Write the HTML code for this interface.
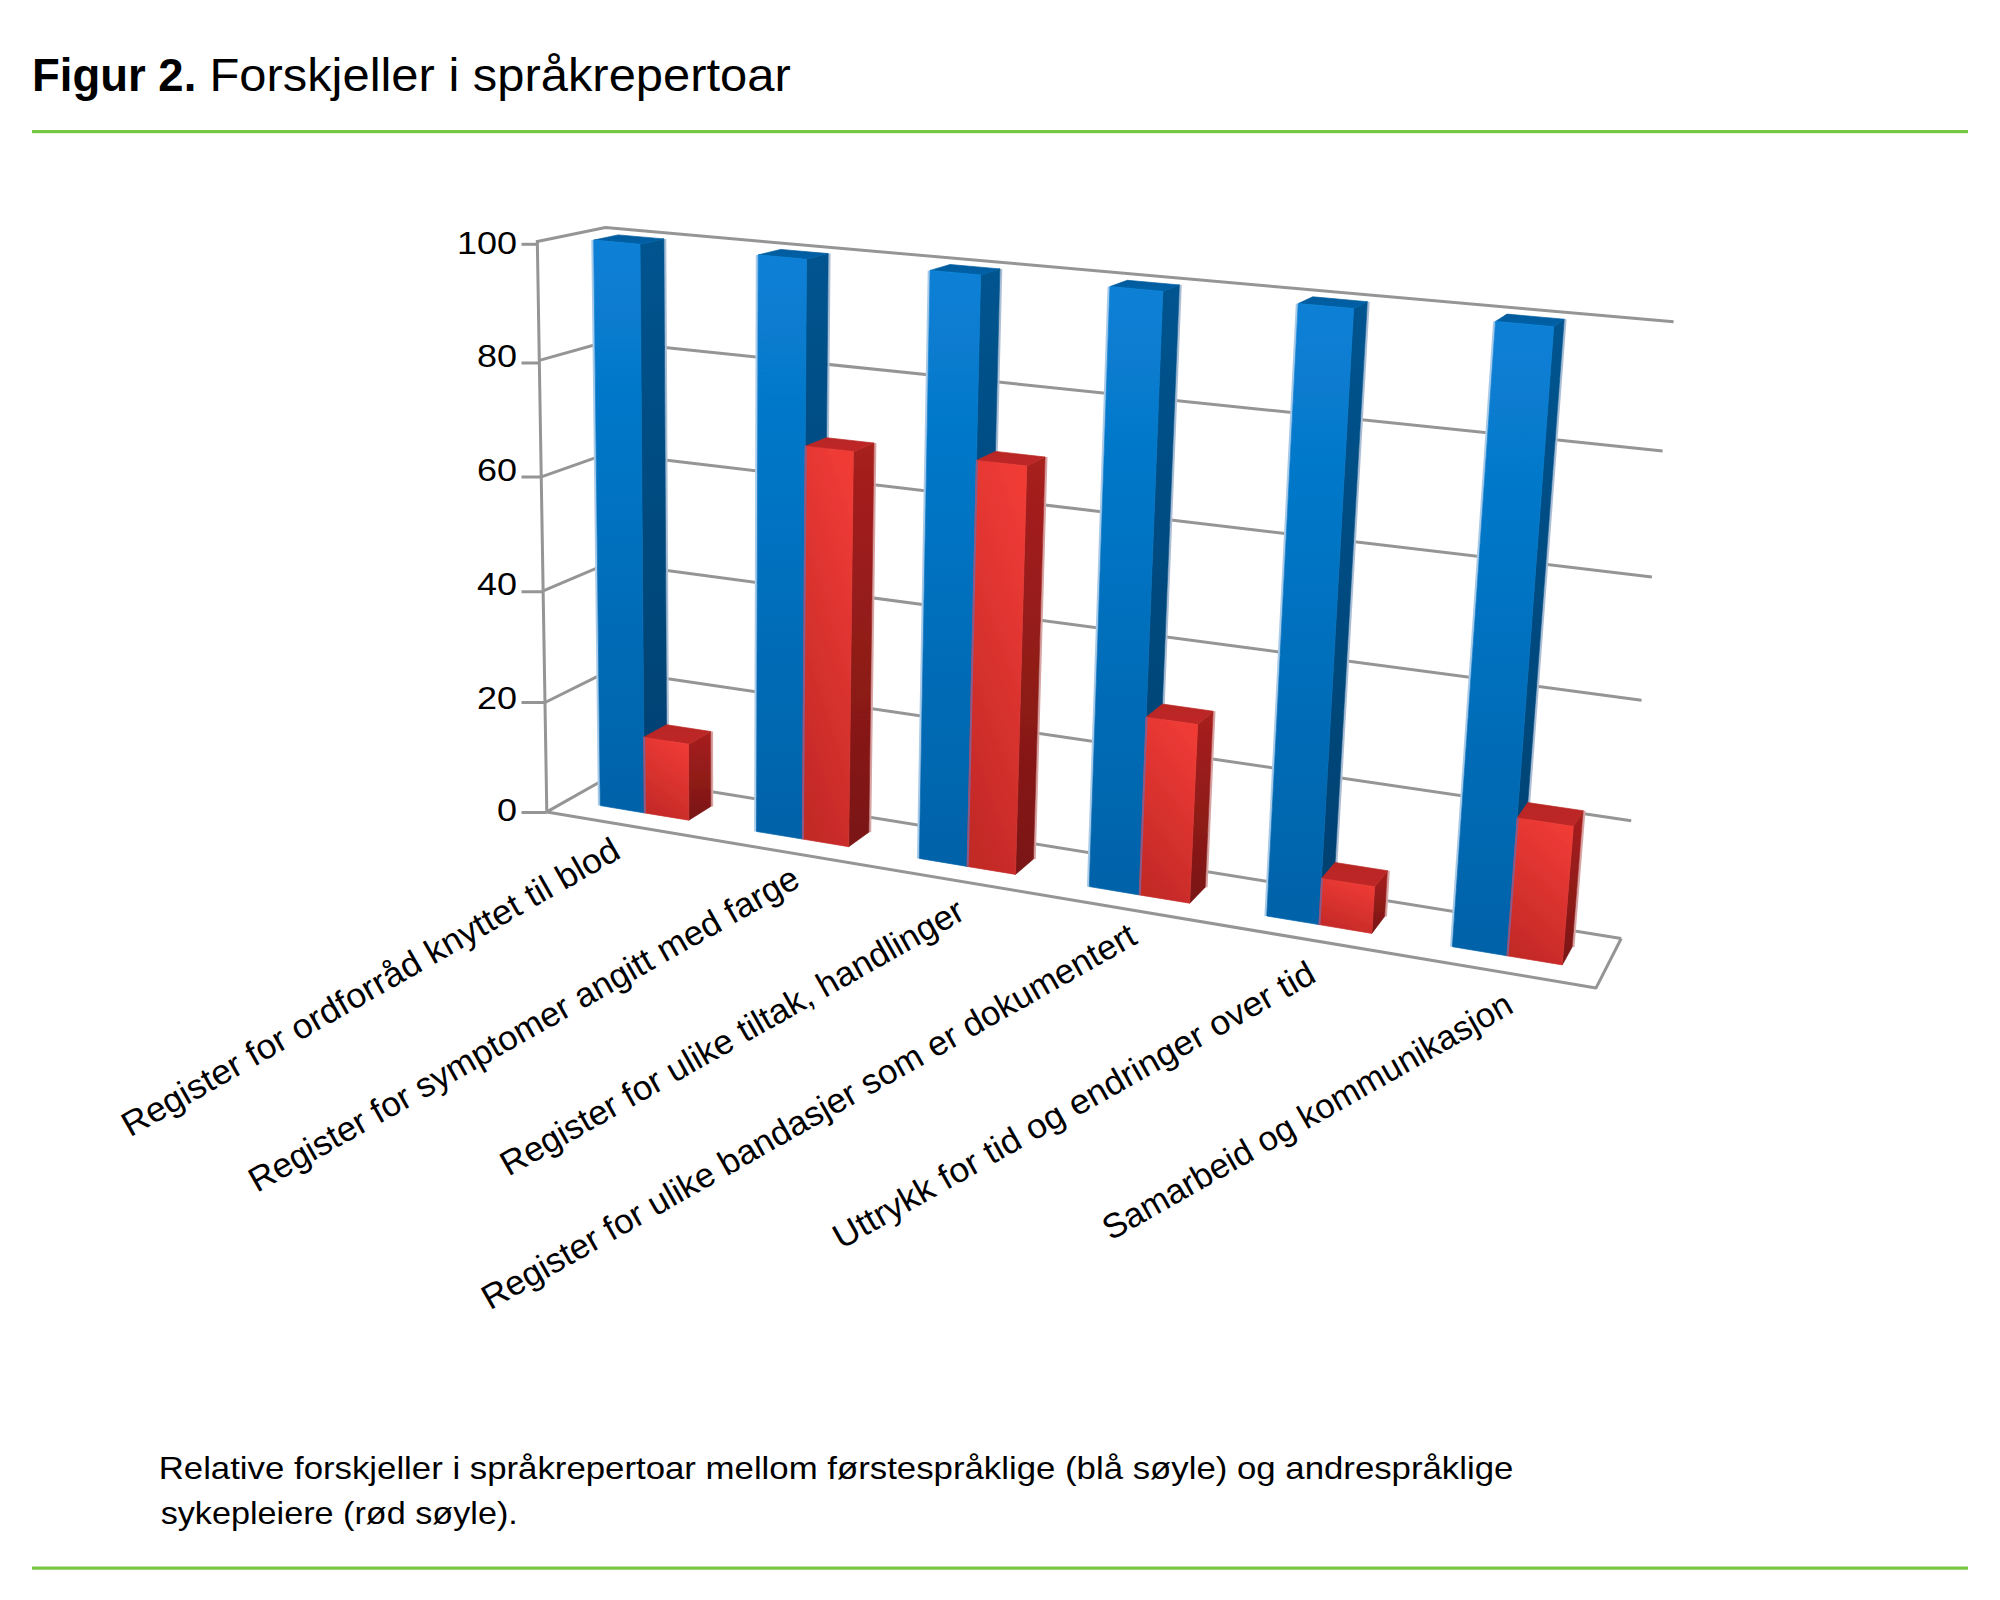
<!DOCTYPE html>
<html><head><meta charset="utf-8"><title>Figur 2. Forskjeller i språkrepertoar</title><style>
html,body{margin:0;padding:0;background:#fff;}
svg{display:block;}
text{font-family:"Liberation Sans",sans-serif;fill:#000;}
.ax{font-size:32px;}
.lb{font-size:34.5px;}
.cap{font-size:32px;}
</style></head><body>
<svg width="2000" height="1600" viewBox="0 0 2000 1600">
<defs>
<filter id="soft" x="-5%" y="-5%" width="110%" height="110%"><feGaussianBlur stdDeviation="0.6"/></filter>
<linearGradient id="bf" x1="0" y1="0" x2="0" y2="1"><stop offset="0" stop-color="#0880D6"/><stop offset="1" stop-color="#0062A8"/></linearGradient>
<linearGradient id="bs" x1="0" y1="0" x2="0" y2="1"><stop offset="0" stop-color="#00548F"/><stop offset="1" stop-color="#00406F"/></linearGradient>
<linearGradient id="bt" x1="0" y1="0" x2="0" y2="1"><stop offset="0" stop-color="#005A9C"/><stop offset="1" stop-color="#0062A8"/></linearGradient>
<linearGradient id="rf" x1="0.7" y1="0" x2="0.3" y2="1"><stop offset="0" stop-color="#F03B36"/><stop offset="1" stop-color="#C22927"/></linearGradient>
<linearGradient id="rs" x1="0" y1="0" x2="0" y2="1"><stop offset="0" stop-color="#A8201E"/><stop offset="1" stop-color="#7A1614"/></linearGradient>
<linearGradient id="rt" x1="0" y1="0" x2="0" y2="1"><stop offset="0" stop-color="#B82624"/><stop offset="1" stop-color="#C02826"/></linearGradient>
</defs>
<rect width="2000" height="1600" fill="#fff"/>
<text x="32" y="90.5" font-size="47" font-weight="bold" textLength="164.3" lengthAdjust="spacingAndGlyphs">Figur 2.</text>
<text x="209.4" y="90.5" font-size="47" textLength="581.3" lengthAdjust="spacingAndGlyphs">Forskjeller i språkrepertoar</text>
<rect x="32" y="130" width="1936" height="3.2" fill="#76C843"/>
<g filter="url(#soft)">
<polyline points="546.8,811.9 611.3,775.5 1621.2,938.5" stroke="#959595" stroke-width="3" fill="none" stroke-linejoin="round"/>
<line x1="521.5" y1="812.5" x2="546.8" y2="812.5" stroke="#959595" stroke-width="3" fill="none" stroke-linejoin="round"/>
<polyline points="545.0,702.5 610.2,670.2 1631.2,820.7" stroke="#959595" stroke-width="3" fill="none" stroke-linejoin="round"/>
<line x1="521.5" y1="702.5" x2="545.0" y2="702.5" stroke="#959595" stroke-width="3" fill="none" stroke-linejoin="round"/>
<polyline points="543.2,590.9 609.1,562.8 1641.5,700.2" stroke="#959595" stroke-width="3" fill="none" stroke-linejoin="round"/>
<line x1="521.5" y1="591.75" x2="543.2" y2="591.75" stroke="#959595" stroke-width="3" fill="none" stroke-linejoin="round"/>
<polyline points="541.3,476.9 607.9,453.3 1651.9,576.9" stroke="#959595" stroke-width="3" fill="none" stroke-linejoin="round"/>
<line x1="521.5" y1="477" x2="541.3" y2="477" stroke="#959595" stroke-width="3" fill="none" stroke-linejoin="round"/>
<polyline points="539.3,360.4 606.8,341.5 1662.6,450.9" stroke="#959595" stroke-width="3" fill="none" stroke-linejoin="round"/>
<line x1="521.5" y1="363" x2="539.3" y2="363" stroke="#959595" stroke-width="3" fill="none" stroke-linejoin="round"/>
<polyline points="537.3,241.5 605.5,227.5 1673.6,321.8" stroke="#959595" stroke-width="3" fill="none" stroke-linejoin="round"/>
<line x1="521.5" y1="244.3" x2="537.3" y2="244.3" stroke="#959595" stroke-width="3" fill="none" stroke-linejoin="round"/>
<line x1="546.8" y1="811.9" x2="537.3" y2="240.0" stroke="#959595" stroke-width="3" fill="none" stroke-linejoin="round"/>
<polyline points="546.8,811.9 1596.1,987.9 1621.2,938.5" stroke="#959595" stroke-width="3" fill="none" stroke-linejoin="round"/>
<line x1="599.1" y1="805.6" x2="592.5" y2="240.1" stroke="#A9CBEA" stroke-width="2.4"/>
<line x1="668.2" y1="799.2" x2="665.2" y2="238.9" stroke="#ADBFD6" stroke-width="2.2"/>
<polygon points="640.0,244.3 663.9,238.9 666.9,799.2 644.3,812.9" fill="url(#bs)" stroke="url(#bs)" stroke-width="0.7" stroke-linejoin="round"/>
<polygon points="593.7,240.1 618.2,234.9 663.9,238.9 640.0,244.3" fill="url(#bt)" stroke="url(#bt)" stroke-width="0.7" stroke-linejoin="round"/>
<polygon points="593.7,240.1 640.0,244.3 644.3,812.9 600.3,805.6" fill="url(#bf)" stroke="url(#bf)" stroke-width="0.7" stroke-linejoin="round"/>
<line x1="712.1" y1="806.4" x2="712.0" y2="731.5" stroke="#D9A4A4" stroke-width="2.2"/>
<polygon points="688.5,744.3 710.7,731.5 710.8,806.4 688.8,820.2" fill="url(#rs)" stroke="url(#rs)" stroke-width="0.7" stroke-linejoin="round"/>
<polygon points="643.7,737.3 666.5,724.7 710.7,731.5 688.5,744.3" fill="url(#rt)" stroke="url(#rt)" stroke-width="0.7" stroke-linejoin="round"/>
<polygon points="643.7,737.3 688.5,744.3 688.8,820.2 644.3,812.9" fill="url(#rf)" stroke="url(#rf)" stroke-width="0.7" stroke-linejoin="round"/>
<line x1="644.9" y1="812.9" x2="644.3" y2="737.3" stroke="#8A5A88" stroke-width="2"/>
<line x1="755.3" y1="831.5" x2="757.0" y2="254.9" stroke="#A9CBEA" stroke-width="2.4"/>
<line x1="824.3" y1="824.7" x2="829.5" y2="253.6" stroke="#ADBFD6" stroke-width="2.2"/>
<polygon points="806.5,259.3 828.2,253.6 823.0,824.7 802.3,839.0" fill="url(#bs)" stroke="url(#bs)" stroke-width="0.7" stroke-linejoin="round"/>
<polygon points="758.2,254.9 780.6,249.4 828.2,253.6 806.5,259.3" fill="url(#bt)" stroke="url(#bt)" stroke-width="0.7" stroke-linejoin="round"/>
<polygon points="758.2,254.9 806.5,259.3 802.3,839.0 756.5,831.5" fill="url(#bf)" stroke="url(#bf)" stroke-width="0.7" stroke-linejoin="round"/>
<line x1="870.1" y1="832.2" x2="875.3" y2="443.0" stroke="#D9A4A4" stroke-width="2.2"/>
<polygon points="853.3,451.7 874.0,443.0 868.8,832.2 848.7,846.7" fill="url(#rs)" stroke="url(#rs)" stroke-width="0.7" stroke-linejoin="round"/>
<polygon points="805.2,446.2 826.5,437.7 874.0,443.0 853.3,451.7" fill="url(#rt)" stroke="url(#rt)" stroke-width="0.7" stroke-linejoin="round"/>
<polygon points="805.2,446.2 853.3,451.7 848.7,846.7 802.3,839.0" fill="url(#rf)" stroke="url(#rf)" stroke-width="0.7" stroke-linejoin="round"/>
<line x1="802.9" y1="839.0" x2="805.8" y2="446.2" stroke="#8A5A88" stroke-width="2"/>
<line x1="918.1" y1="858.4" x2="928.9" y2="270.4" stroke="#A9CBEA" stroke-width="2.4"/>
<line x1="986.9" y1="851.3" x2="1001.2" y2="268.9" stroke="#ADBFD6" stroke-width="2.2"/>
<polygon points="980.6,275.0 999.9,268.9 985.6,851.3 967.1,866.4" fill="url(#bs)" stroke="url(#bs)" stroke-width="0.7" stroke-linejoin="round"/>
<polygon points="930.1,270.4 950.1,264.5 999.9,268.9 980.6,275.0" fill="url(#bt)" stroke="url(#bt)" stroke-width="0.7" stroke-linejoin="round"/>
<polygon points="930.1,270.4 980.6,275.0 967.1,866.4 919.3,858.4" fill="url(#bf)" stroke="url(#bf)" stroke-width="0.7" stroke-linejoin="round"/>
<line x1="1034.7" y1="859.1" x2="1046.4" y2="457.0" stroke="#D9A4A4" stroke-width="2.2"/>
<polygon points="1026.7,466.1 1045.1,457.0 1033.4,859.1 1015.5,874.4" fill="url(#rs)" stroke="url(#rs)" stroke-width="0.7" stroke-linejoin="round"/>
<polygon points="976.4,460.4 995.5,451.4 1045.1,457.0 1026.7,466.1" fill="url(#rt)" stroke="url(#rt)" stroke-width="0.7" stroke-linejoin="round"/>
<polygon points="976.4,460.4 1026.7,466.1 1015.5,874.4 967.1,866.4" fill="url(#rf)" stroke="url(#rf)" stroke-width="0.7" stroke-linejoin="round"/>
<line x1="967.7" y1="866.4" x2="977.0" y2="460.4" stroke="#8A5A88" stroke-width="2"/>
<line x1="1088.1" y1="886.6" x2="1108.7" y2="286.6" stroke="#A9CBEA" stroke-width="2.4"/>
<line x1="1156.6" y1="879.0" x2="1180.7" y2="284.9" stroke="#ADBFD6" stroke-width="2.2"/>
<polygon points="1162.8,291.4 1179.4,284.9 1155.3,879.0 1139.2,894.9" fill="url(#bs)" stroke="url(#bs)" stroke-width="0.7" stroke-linejoin="round"/>
<polygon points="1109.9,286.6 1127.3,280.3 1179.4,284.9 1162.8,291.4" fill="url(#bt)" stroke="url(#bt)" stroke-width="0.7" stroke-linejoin="round"/>
<polygon points="1109.9,286.6 1162.8,291.4 1139.2,894.9 1089.3,886.6" fill="url(#bf)" stroke="url(#bf)" stroke-width="0.7" stroke-linejoin="round"/>
<line x1="1206.5" y1="887.2" x2="1214.4" y2="711.2" stroke="#D9A4A4" stroke-width="2.2"/>
<polygon points="1197.6,724.6 1213.1,711.2 1205.2,887.2 1189.7,903.2" fill="url(#rs)" stroke="url(#rs)" stroke-width="0.7" stroke-linejoin="round"/>
<polygon points="1146.1,717.2 1162.4,704.0 1213.1,711.2 1197.6,724.6" fill="url(#rt)" stroke="url(#rt)" stroke-width="0.7" stroke-linejoin="round"/>
<polygon points="1146.1,717.2 1197.6,724.6 1189.7,903.2 1139.2,894.9" fill="url(#rf)" stroke="url(#rf)" stroke-width="0.7" stroke-linejoin="round"/>
<line x1="1139.8" y1="894.9" x2="1146.7" y2="717.2" stroke="#8A5A88" stroke-width="2"/>
<line x1="1265.6" y1="916.0" x2="1297.0" y2="303.6" stroke="#A9CBEA" stroke-width="2.4"/>
<line x1="1333.8" y1="908.0" x2="1368.6" y2="301.7" stroke="#ADBFD6" stroke-width="2.2"/>
<polygon points="1353.6,308.6 1367.3,301.7 1332.5,908.0 1318.9,924.6" fill="url(#bs)" stroke="url(#bs)" stroke-width="0.7" stroke-linejoin="round"/>
<polygon points="1298.2,303.6 1312.8,296.8 1367.3,301.7 1353.6,308.6" fill="url(#bt)" stroke="url(#bt)" stroke-width="0.7" stroke-linejoin="round"/>
<polygon points="1298.2,303.6 1353.6,308.6 1318.9,924.6 1266.8,916.0" fill="url(#bf)" stroke="url(#bf)" stroke-width="0.7" stroke-linejoin="round"/>
<line x1="1385.9" y1="916.5" x2="1388.7" y2="870.7" stroke="#D9A4A4" stroke-width="2.2"/>
<polygon points="1374.6,886.9 1387.4,870.7 1384.6,916.5 1371.8,933.4" fill="url(#rs)" stroke="url(#rs)" stroke-width="0.7" stroke-linejoin="round"/>
<polygon points="1321.5,878.5 1335.1,862.5 1387.4,870.7 1374.6,886.9" fill="url(#rt)" stroke="url(#rt)" stroke-width="0.7" stroke-linejoin="round"/>
<polygon points="1321.5,878.5 1374.6,886.9 1371.8,933.4 1318.9,924.6" fill="url(#rf)" stroke="url(#rf)" stroke-width="0.7" stroke-linejoin="round"/>
<line x1="1319.5" y1="924.6" x2="1322.1" y2="878.5" stroke="#8A5A88" stroke-width="2"/>
<line x1="1451.2" y1="946.7" x2="1494.3" y2="321.4" stroke="#A9CBEA" stroke-width="2.4"/>
<line x1="1518.9" y1="938.2" x2="1565.5" y2="319.2" stroke="#ADBFD6" stroke-width="2.2"/>
<polygon points="1553.7,326.7 1564.2,319.2 1517.6,938.2 1506.9,955.8" fill="url(#bs)" stroke="url(#bs)" stroke-width="0.7" stroke-linejoin="round"/>
<polygon points="1495.5,321.4 1507.0,314.1 1564.2,319.2 1553.7,326.7" fill="url(#bt)" stroke="url(#bt)" stroke-width="0.7" stroke-linejoin="round"/>
<polygon points="1495.5,321.4 1553.7,326.7 1506.9,955.8 1452.4,946.7" fill="url(#bf)" stroke="url(#bf)" stroke-width="0.7" stroke-linejoin="round"/>
<line x1="1573.4" y1="947.1" x2="1584.4" y2="810.7" stroke="#D9A4A4" stroke-width="2.2"/>
<polygon points="1573.3,826.4 1583.1,810.7 1572.1,947.1 1562.3,964.9" fill="url(#rs)" stroke="url(#rs)" stroke-width="0.7" stroke-linejoin="round"/>
<polygon points="1517.2,818.1 1527.8,802.6 1583.1,810.7 1573.3,826.4" fill="url(#rt)" stroke="url(#rt)" stroke-width="0.7" stroke-linejoin="round"/>
<polygon points="1517.2,818.1 1573.3,826.4 1562.3,964.9 1506.9,955.8" fill="url(#rf)" stroke="url(#rf)" stroke-width="0.7" stroke-linejoin="round"/>
<line x1="1507.5" y1="955.8" x2="1517.8" y2="818.1" stroke="#8A5A88" stroke-width="2"/>
</g>
<text x="457.0" y="253.75" class="ax" textLength="60.0" lengthAdjust="spacingAndGlyphs">100</text>
<text x="477.0" y="367" class="ax" textLength="40.0" lengthAdjust="spacingAndGlyphs">80</text>
<text x="477.0" y="481" class="ax" textLength="40.0" lengthAdjust="spacingAndGlyphs">60</text>
<text x="477.0" y="595" class="ax" textLength="40.0" lengthAdjust="spacingAndGlyphs">40</text>
<text x="477.0" y="708.75" class="ax" textLength="40.0" lengthAdjust="spacingAndGlyphs">20</text>
<text x="497.0" y="821" class="ax" textLength="20.0" lengthAdjust="spacingAndGlyphs">0</text>
<text x="0" y="0" transform="translate(130.0,1137.5) rotate(-29.66)" class="lb" textLength="566.8" lengthAdjust="spacingAndGlyphs">Register for ordforråd knyttet til blod</text>
<text x="0" y="0" transform="translate(257.0,1193.0) rotate(-29.44)" class="lb" textLength="625.8" lengthAdjust="spacingAndGlyphs">Register for symptomer angitt med farge</text>
<text x="0" y="0" transform="translate(508.4,1176.7) rotate(-29.43)" class="lb" textLength="526.5" lengthAdjust="spacingAndGlyphs">Register for ulike tiltak, handlinger</text>
<text x="0" y="0" transform="translate(489.9,1310.5) rotate(-29.54)" class="lb" textLength="746.1" lengthAdjust="spacingAndGlyphs">Register for ulike bandasjer som er dokumentert</text>
<text x="0" y="0" transform="translate(841.2,1249.8) rotate(-29.46)" class="lb" textLength="547.7" lengthAdjust="spacingAndGlyphs">Uttrykk for tid og endringer over tid</text>
<text x="0" y="0" transform="translate(1110.7,1241.1) rotate(-29.59)" class="lb" textLength="465.2" lengthAdjust="spacingAndGlyphs">Samarbeid og kommunikasjon</text>
<text x="158.7" y="1478.5" class="cap" textLength="1354.7" lengthAdjust="spacingAndGlyphs">Relative forskjeller i språkrepertoar mellom førstespråklige (blå søyle) og andrespråklige</text>
<text x="160.7" y="1523.8" class="cap" textLength="357.1" lengthAdjust="spacingAndGlyphs">sykepleiere (rød søyle).</text>
<rect x="32" y="1566.5" width="1936" height="3.2" fill="#76C843"/>
</svg>
</body></html>
